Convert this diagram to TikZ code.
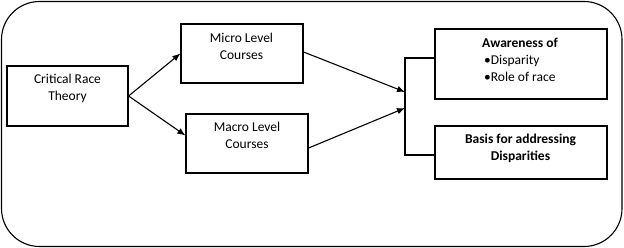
\documentclass[tikz,border=0pt]{standalone}
\usepackage{fontspec}
\setmainfont{Carlito}
\usepackage{tikz}
\usetikzlibrary{arrows.meta,calc,positioning}

\begin{document}
\begin{tikzpicture}[x=1pt,y=-1pt,
  box/.style={draw, line width=1.2pt, inner sep=0pt},
  txt/.style={font=\fontsize{13.5}{17}\selectfont, align=center, inner sep=0pt},
  arr/.style={line width=1.1pt, -{Latex[length=8pt,width=6.5pt]}}]
\useasboundingbox (0,0) rectangle (624,248);
% Frame
\draw[line width=1.1pt, rounded corners=38pt] (1.5,1.5) rectangle (622,246.5);

% Boxes
\node[box, minimum width=121pt, minimum height=60pt] (crt) at (67.5,96) {};
\node[box, minimum width=122pt, minimum height=59pt] (micro) at (242,53.5) {};
\node[box, minimum width=122pt, minimum height=59pt] (macro) at (247,143.5) {};
\node[box, minimum width=172pt, minimum height=70pt] (awr) at (521,64) {};
\node[box, minimum width=172pt, minimum height=53pt] (basis) at (521,152.5) {};

% Texts
\node[txt] (crtT) at (67.5,88.5) {Critical Race\\Theory};
\node[txt] (microT) at (241.5,46) {Micro Level\\Courses};
\node[txt] (macroT) at (247,135.5) {Macro Level\\Courses};
\node[txt, align=left, anchor=west] (awrT) at (482,59.5) {\textbf{Awareness of}\\\hspace{2pt}•Disparity\\\hspace{2pt}•Role of race};
\node[txt] (basisT) at (520.5,148) {\textbf{Basis for addressing}\\\textbf{Disparities}};

% Connectors
\coordinate (jt) at (405,58); \coordinate (jb) at (405,155);
\coordinate (inA) at (405,92); \coordinate (inB) at (405,108);
\draw[arr] (crt.east) -- (micro.west);
\draw[arr] (crt.east) -- ([yshift=8pt]macro.west);
\draw[arr] ([yshift=1.5pt]micro.east) -- (inA);
\draw[arr] ([yshift=-4.5pt]macro.east) -- (inB);
\draw[line width=1.1pt] (jt -| awr.west) -- (jt) -- (jb) -- (jb -| basis.west);
\end{tikzpicture}
\end{document}
